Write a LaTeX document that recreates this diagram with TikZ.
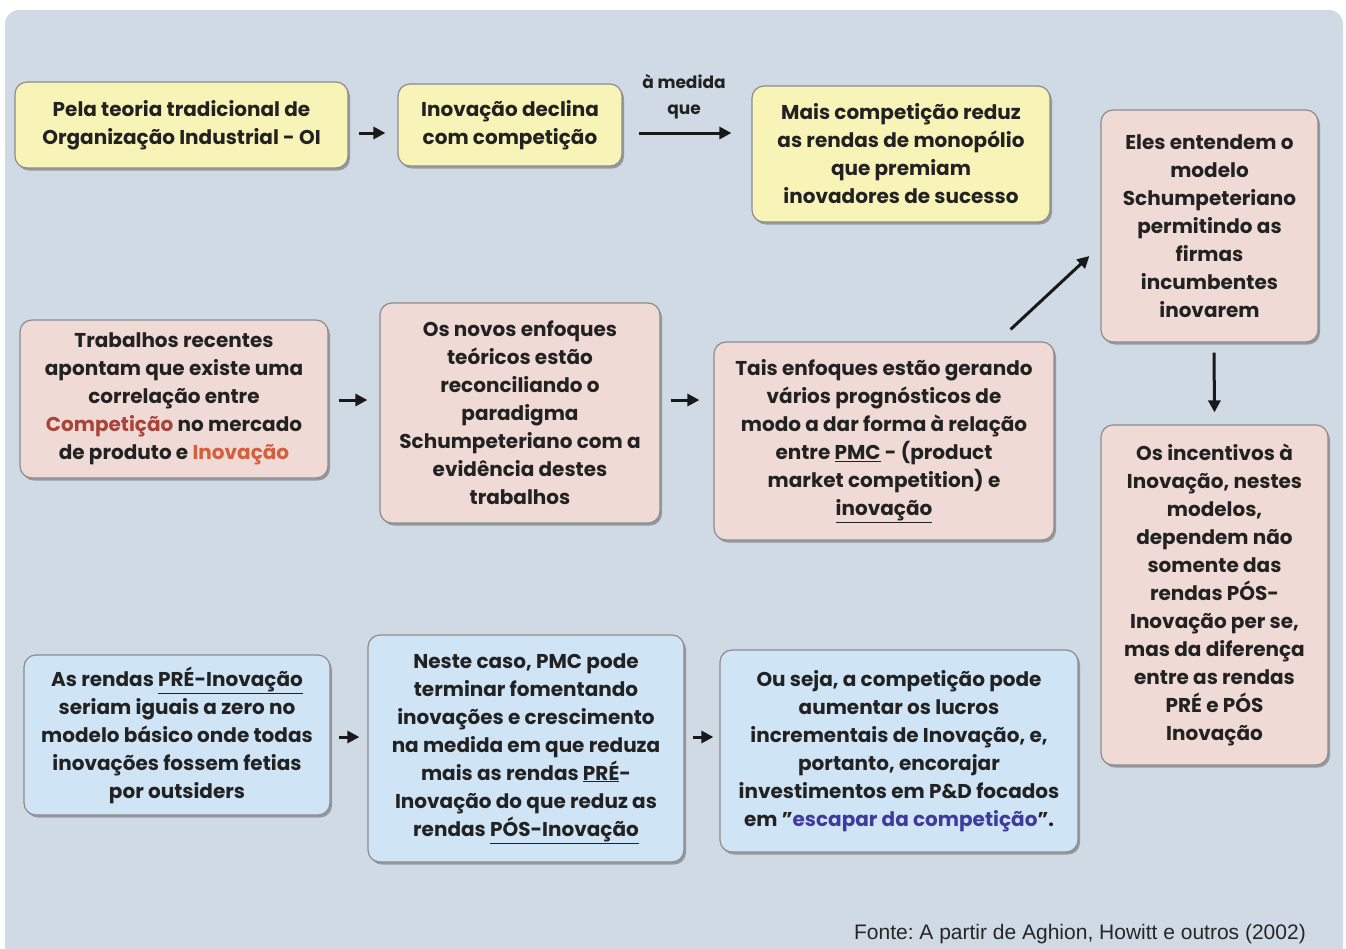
\documentclass[tikz,border=0pt]{standalone}
\usepackage{fontspec}
\setmainfont{Poppins}
\newfontfamily\fontefont{Liberation Sans}
\usetikzlibrary{shadows,arrows.meta,calc}
\frenchspacing
\definecolor{bgc}{HTML}{D0DAE4}
\definecolor{yel}{HTML}{F8F4B8}
\definecolor{pnk}{HTML}{EFDAD5}
\definecolor{blu}{HTML}{CFE5F5}
\definecolor{bord}{HTML}{8C8C8C}
\definecolor{txt}{HTML}{222222}
\definecolor{redA}{HTML}{A8443A}
\definecolor{redB}{HTML}{D2603E}
\definecolor{bluA}{HTML}{3E3A9E}
\tikzset{
  box/.style={draw=bord, line width=1.2pt, rounded corners=12pt, align=center,
    inner sep=0pt, text=txt, font=\fontsize{20}{28}\selectfont\bfseries,
    drop shadow={shadow xshift=2pt, shadow yshift=-2.5pt, opacity=0.45, fill=black!70}},
  ybox/.style={box, fill=yel},
  pbox/.style={box, fill=pnk},
  bbox/.style={box, fill=blu},
  arr/.style={line width=3pt, -{Triangle[length=12pt,width=12pt]}, draw=black!90}
}
\begin{document}
\begin{tikzpicture}[x=1pt,y=-1pt]
\useasboundingbox (0,0) rectangle (1346,948);
\fill[white] (0,0) rectangle (1346,948);
\begin{scope}
\clip (0,0) rectangle (1346,948);
\fill[bgc, rounded corners=14pt] (5,10) rectangle (1343,970);
\end{scope}

\node[ybox, minimum width=333pt, minimum height=86pt] (b1) at (181.5,125) {Pela teoria tradicional de\\Organização Industrial - OI};
\node[ybox, minimum width=224pt, minimum height=82pt] (b2) at (510,125) {Inovação declina\\com competição};
\node[ybox, minimum width=298pt, minimum height=136pt] (b3) at (901,154) {Mais competição reduz\\as rendas de monopólio\\que premiam\\inovadores de sucesso};

\node[pbox, minimum width=308pt, minimum height=158pt] (b4) at (174,399) {Trabalhos recentes\\apontam que existe uma\\correlação entre\\{\color{redA}Competição} no mercado\\de produto e {\color{redB}Inovação}};
\node[pbox, minimum width=280pt, minimum height=220pt] (b5) at (520,413) {Os novos enfoques\\teóricos estão\\reconciliando o\\paradigma\\Schumpeteriano com a\\evidência destes\\trabalhos};
\node[pbox, minimum width=340pt, minimum height=198pt] (b6) at (884,441) {Tais enfoques estão gerando\\vários prognósticos de\\modo a dar forma à relação\\entre \underline{PMC} - (product\\market competition) e\\\underline{inovação}};
\node[pbox, minimum width=217pt, minimum height=232pt] (b7) at (1209.5,226) {Eles entendem o\\modelo\\Schumpeteriano\\permitindo as\\firmas\\incumbentes\\inovarem};
\node[pbox, minimum width=227pt, minimum height=340pt] (b8) at (1214.5,595) {Os incentivos à\\Inovação, nestes\\modelos,\\dependem não\\somente das\\rendas PÓS-\\Inovação per se,\\mas da diferença\\entre as rendas\\PRÉ e PÓS\\Inovação};

\node[bbox, minimum width=306pt, minimum height=160pt] (b9) at (177,735) {As rendas \underline{PRÉ-Inovação}\\seriam iguais a zero no\\modelo básico onde todas\\inovações fossem fetias\\por outsiders};
\node[bbox, minimum width=316pt, minimum height=227pt] (b10) at (526,748.5) {Neste caso, PMC pode\\terminar fomentando\\inovações e crescimento\\na medida em que reduza\\mais as rendas \underline{PRÉ}-\\Inovação do que reduz as\\rendas \underline{PÓS-Inovação}};
\node[bbox, minimum width=358pt, minimum height=202pt] (b11) at (899,751) {Ou seja, a competição pode\\aumentar os lucros\\incrementais de Inovação, e,\\portanto, encorajar\\investimentos em P\&D focados\\em \char"0022{\color{bluA}escapar da competição}\char"0022.};

\node[text=txt, font=\fontsize{17}{26}\selectfont\bfseries, align=center] (lbl) at (684,97) {à medida\\que};

\draw[arr] ($(b1.east)+(10,8)$) -- ($(b2.west)+(-12,8)$);
\draw[arr] ($(b2.east)+(16,8)$) -- ($(b3.west)+(-20,-21)$);
\draw[arr] ($(b4.east)+(10,1)$) -- ($(b5.west)+(-12,-13)$);
\draw[arr] ($(b5.east)+(10,-13)$) -- ($(b6.west)+(-14,-41)$);
\draw[arr] ($(b6.north east)+(-44,-12)$) -- ($(b7.west)+(-11,30)$);
\draw[arr] ($(b7.south)+(4.5,10)$) -- ($(b8.north)+(0,-12)$);
\draw[arr] ($(b9.east)+(8,2)$) -- ($(b10.west)+(-8,-11.5)$);
\draw[arr] ($(b10.east)+(8,-11.5)$) -- ($(b11.west)+(-6,-14)$);

\node[anchor=east, text=black!85, font=\fontefont\fontsize{21}{23}\selectfont, inner sep=0pt] (src) at (1306,934) {Fonte: A partir de Aghion, Howitt e outros (2002)};
\end{tikzpicture}
\end{document}
